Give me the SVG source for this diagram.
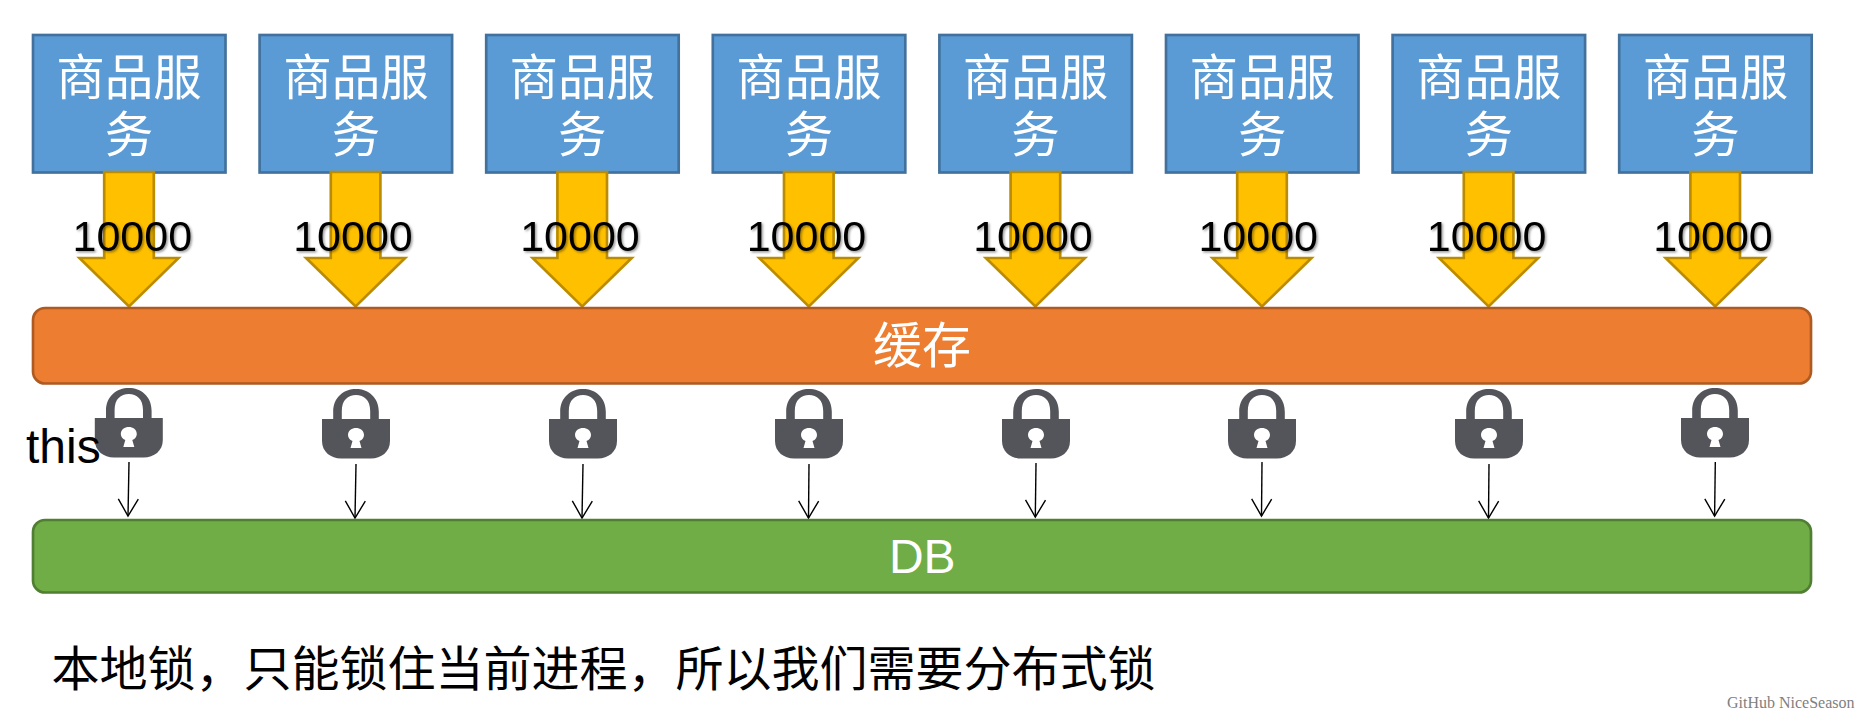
<svg xmlns="http://www.w3.org/2000/svg" width="1865" height="716" viewBox="0 0 1865 716">
  <style>
    text { font-family: "Liberation Sans", "Noto Sans CJK SC", sans-serif; }
    .cjk { font-family: "Noto Sans CJK SC", sans-serif; font-size: 48px; }
    .svc { fill: #5B9BD5; stroke: #41719C; stroke-width: 2.67; }
    .svc-t { fill: #fff; text-anchor: middle; font-size: 48.5px; }
    .flow { fill: #FFC000; stroke: #BC8C00; stroke-width: 2.67; stroke-linejoin: miter; }
    .num { font-size: 43px; fill: #000; text-anchor: middle; filter: url(#soft); }
    .bar-t { fill: #fff; text-anchor: middle; }
    .wire { stroke: #000; stroke-width: 1.4; fill: none; marker-end: url(#open); }
    .lock-b { fill: #54555A; }
    .lock-k { fill: #fff; }
  </style>
  <defs>
    <filter id="soft" x="-10%" y="-10%" width="125%" height="130%">
      <feDropShadow dx="1.5" dy="1.5" stdDeviation="1" flood-color="#000" flood-opacity="0.4"/>
    </filter>
    <marker id="open" markerUnits="userSpaceOnUse" markerWidth="26" markerHeight="26" refX="20" refY="13" orient="auto">
      <path d="M3 3 L20 13 L3 23" fill="none" stroke="#000" stroke-width="1.4"/>
    </marker>
    <path id="block-arrow" class="flow" d="M-24.8 0 H24.8 V86 H49.5 L0 134.5 L-49.5 86 H-24.8 Z"/>
    <g id="padlock">
      <path class="lock-b" d="M-22.8 30 V23 C-22.8 8 -12 0 0 0 C12 0 22.8 8 22.8 23 V30 H14.2 V22 C14.2 11 8 6 0 6 C-8 6 -14.2 11 -14.2 22 V30 Z"/>
      <path class="lock-b" d="M-34 30 H34 V52 C34 63 25 69.5 15 69.5 H-15 C-25 69.5 -34 63 -34 52 Z"/>
      <path class="lock-k" d="M-5.5 59 L-3.5 52 C-6.5 51 -8 48.5 -8 46 C-8 41.5 -4 39 0 39 C4 39 8 41.5 8 46 C8 48.5 6.5 51 3.5 52 L5.5 59 Z"/>
    </g>
  </defs>

  <g id="svc-1"><rect class="svc" x="33" y="35" width="192.5" height="137.5"/><text class="cjk svc-t" x="129" y="95">商品服</text><text class="cjk svc-t" x="129" y="152">务</text></g>
  <g id="svc-2"><rect class="svc" x="259.6" y="35" width="192.5" height="137.5"/><text class="cjk svc-t" x="356" y="95">商品服</text><text class="cjk svc-t" x="356" y="152">务</text></g>
  <g id="svc-3"><rect class="svc" x="486.2" y="35" width="192.5" height="137.5"/><text class="cjk svc-t" x="582.3" y="95">商品服</text><text class="cjk svc-t" x="582.3" y="152">务</text></g>
  <g id="svc-4"><rect class="svc" x="712.8" y="35" width="192.5" height="137.5"/><text class="cjk svc-t" x="809" y="95">商品服</text><text class="cjk svc-t" x="809" y="152">务</text></g>
  <g id="svc-5"><rect class="svc" x="939.4" y="35" width="192.5" height="137.5"/><text class="cjk svc-t" x="1035.6" y="95">商品服</text><text class="cjk svc-t" x="1035.6" y="152">务</text></g>
  <g id="svc-6"><rect class="svc" x="1166" y="35" width="192.5" height="137.5"/><text class="cjk svc-t" x="1262.2" y="95">商品服</text><text class="cjk svc-t" x="1262.2" y="152">务</text></g>
  <g id="svc-7"><rect class="svc" x="1392.6" y="35" width="192.5" height="137.5"/><text class="cjk svc-t" x="1488.8" y="95">商品服</text><text class="cjk svc-t" x="1488.8" y="152">务</text></g>
  <g id="svc-8"><rect class="svc" x="1619.2" y="35" width="192.5" height="137.5"/><text class="cjk svc-t" x="1715.4" y="95">商品服</text><text class="cjk svc-t" x="1715.4" y="152">务</text></g>

  <g id="connectors">
    <use href="#block-arrow" x="129" y="172"/>
    <use href="#block-arrow" x="355.6" y="172"/>
    <use href="#block-arrow" x="582.2" y="172"/>
    <use href="#block-arrow" x="808.8" y="172"/>
    <use href="#block-arrow" x="1035.4" y="172"/>
    <use href="#block-arrow" x="1262" y="172"/>
    <use href="#block-arrow" x="1488.6" y="172"/>
    <use href="#block-arrow" x="1715.2" y="172"/>
    <line class="wire" x1="129" y1="462" x2="128" y2="516"/>
    <line class="wire" x1="356" y1="464" x2="355" y2="518"/>
    <line class="wire" x1="583" y1="464" x2="582" y2="518"/>
    <line class="wire" x1="809" y1="464" x2="808.5" y2="518"/>
    <line class="wire" x1="1036" y1="463" x2="1035.3" y2="517"/>
    <line class="wire" x1="1262" y1="462" x2="1261.5" y2="516"/>
    <line class="wire" x1="1489" y1="464" x2="1488.5" y2="518"/>
    <line class="wire" x1="1715.3" y1="462" x2="1714.6" y2="516"/>
  </g>

  <g id="cache"><rect x="33" y="308" width="1778" height="75.5" rx="12" fill="#ED7D31" stroke="#AE5A21" stroke-width="2.67"/><text class="cjk bar-t" x="922" y="363" style="font-size:49px">缓存</text></g>
  <g id="db"><rect x="33" y="520" width="1778" height="72.5" rx="12" fill="#70AD47" stroke="#507E32" stroke-width="2.67"/><text class="bar-t" x="922.3" y="572.5" font-size="48">DB</text></g>

  <g id="locks">
    <use href="#padlock" x="128.8" y="388"/>
    <use href="#padlock" x="356" y="389"/>
    <use href="#padlock" x="583" y="389"/>
    <use href="#padlock" x="809" y="389"/>
    <use href="#padlock" x="1036" y="389"/>
    <use href="#padlock" x="1262" y="389"/>
    <use href="#padlock" x="1489" y="389"/>
    <use href="#padlock" x="1715" y="388"/>
  </g>

  <g id="counts">
    <text class="num" x="132.3" y="250.5">10000</text>
    <text class="num" x="353" y="250.5">10000</text>
    <text class="num" x="580" y="250.5">10000</text>
    <text class="num" x="806.5" y="250.5">10000</text>
    <text class="num" x="1033" y="250.5">10000</text>
    <text class="num" x="1258.2" y="250.5">10000</text>
    <text class="num" x="1486.6" y="250.5">10000</text>
    <text class="num" x="1713" y="250.5">10000</text>
  </g>

  <text id="this-label" x="26" y="463" font-size="48">this</text>
  <text id="caption" class="cjk" x="51.5" y="686">本地锁，只能锁住当前进程，所以我们需要分布式锁</text>
  <text id="credit" x="1727" y="708" font-size="16" fill="#808080" style="font-family:'Liberation Serif',serif">GitHub NiceSeason</text>
</svg>
